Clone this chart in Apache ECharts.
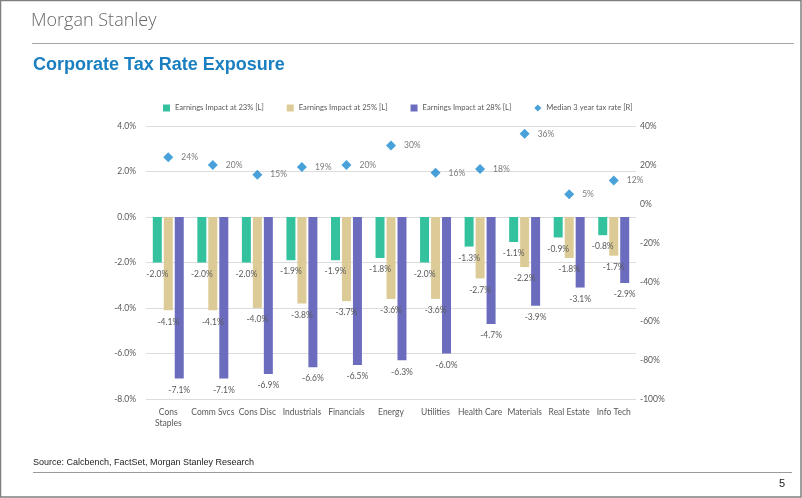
<!DOCTYPE html>
<html><head><meta charset="utf-8">
<script src="https://cdn.jsdelivr.net/npm/echarts@6/dist/echarts.min.js"></script>
<style>html,body{margin:0;padding:0;background:#fff}#c{width:802px;height:498px}</style>
</head><body><div id="c"></div>
<script>
const categories = ['Cons\nStaples','Comm Svcs','Cons Disc','Industrials','Financials','Energy','Utilities','Health Care','Materials','Real Estate','Info Tech'];
const impact23 = [-2.0,-2.0,-2.0,-1.9,-1.9,-1.8,-2.0,-1.3,-1.1,-0.9,-0.8];
const impact25 = [-4.1,-4.1,-4.0,-3.8,-3.7,-3.6,-3.6,-2.7,-2.2,-1.8,-1.7];
const impact28 = [-7.1,-7.1,-6.9,-6.6,-6.5,-6.3,-6.0,-4.7,-3.9,-3.1,-2.9];
const taxRate = [24,20,15,19,20,30,16,18,36,5,12];
const seriesNames = ['Earnings Impact at 23% [L]','Earnings Impact at 25% [L]','Earnings Impact at 28% [L]','Median 3 year tax rate [R]'];

const FONT = 'Lato, "Open Sans", sans-serif';
const GREY = '#595959';
const chart = echarts.init(document.getElementById('c'), null, {renderer:'canvas'});
const barLabel = {show:true, position:'bottom', distance:7, color:GREY, fontSize:8.5, fontFamily:FONT, formatter:p=>p.value.toFixed(1)+'%'};
const barSeries = (name, data, color) => ({
  name, type:'bar', data, yAxisIndex:0, barWidth:9, barGap:'22%',
  itemStyle:{color}, label:barLabel
});
chart.setOption({
  animation:false,
  graphic:[
    {type:'rect', shape:{x:0.5,y:0.5,width:800.5,height:496.5}, style:{fill:'none', stroke:'#7f7f7f', lineWidth:1.5}},
    {type:'text', left:31, top:12, style:{text:'Morgan Stanley', font:'300 18px "Open Sans", Lato, sans-serif', fill:'#666666'}},
    {type:'line', shape:{x1:32,y1:43.5,x2:794,y2:43.5}, style:{stroke:'#a6a6a6', lineWidth:1.2}},
    {type:'text', left:33, top:56, style:{text:'Corporate Tax Rate Exposure', font:'bold 18px "Liberation Sans", Arial, sans-serif', fill:'#1a7fc1'}},
    {type:'text', left:33, top:458, style:{text:'Source: Calcbench, FactSet, Morgan Stanley Research', font:'9px "Liberation Sans", Arial, sans-serif', fill:'#222'}},
    {type:'line', shape:{x1:33,y1:472.5,x2:792,y2:472.5}, style:{stroke:'#9a9a9a', lineWidth:1.2}},
    {type:'text', left:779, top:478, style:{text:'5', font:'11px "Liberation Sans", Arial, sans-serif', fill:'#222'}}
  ],
  legend:{
    left:158, top:99, itemWidth:7, itemHeight:7, itemGap:23,
    textStyle:{color:GREY, fontSize:7.6, fontFamily:FONT},
    data:[
      {name:seriesNames[0], icon:'rect'},
      {name:seriesNames[1], icon:'rect'},
      {name:seriesNames[2], icon:'rect'},
      {name:seriesNames[3], icon:'diamond'}
    ]
  },
  grid:{left:146, right:166, top:126, height:273, containLabel:false},
  xAxis:{
    type:'category', data:categories,
    axisLine:{show:false}, axisTick:{show:false},
    axisLabel:{color:GREY, fontSize:8.5, fontFamily:FONT, margin:8, interval:0, lineHeight:11}
  },
  yAxis:[
    {type:'value', min:-8, max:4, interval:2, position:'left',
     axisLine:{show:false}, axisTick:{show:false},
     axisLabel:{color:GREY, fontSize:8.5, fontFamily:FONT, margin:10, formatter:v=>v.toFixed(1)+'%'},
     splitLine:{lineStyle:{color:'#dcdcdc', width:1}}},
    {type:'value', min:-100, max:40, interval:20, position:'right',
     axisLine:{show:false}, axisTick:{show:false},
     axisLabel:{color:GREY, fontSize:8.5, fontFamily:FONT, margin:4, formatter:v=>v+'%'},
     splitLine:{show:false}}
  ],
  series:[
    barSeries(seriesNames[0], impact23, '#34c29e'),
    barSeries(seriesNames[1], impact25, '#dccb96'),
    barSeries(seriesNames[2], impact28, '#6c6cbf'),
    {name:seriesNames[3], type:'scatter', yAxisIndex:1, data:taxRate, symbol:'diamond', symbolSize:10,
     itemStyle:{color:'#1a8ad0'},
     label:{show:true, position:'right', distance:8, color:GREY, fontSize:8.5, fontFamily:FONT, formatter:p=>p.value+'%'}}
  ]
});
</script></body></html>
